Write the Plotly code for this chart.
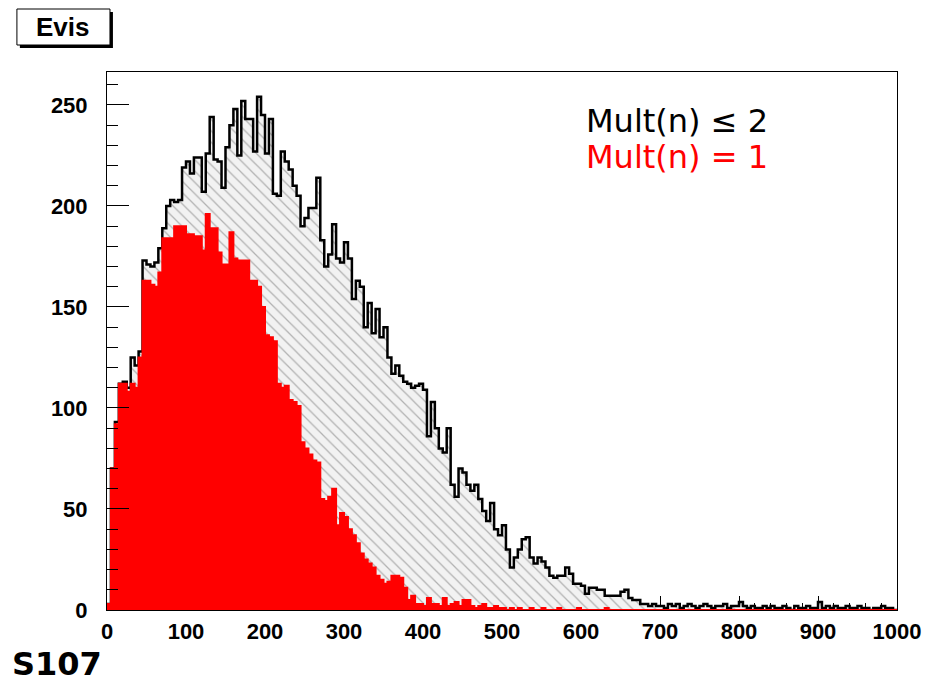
import plotly.graph_objects as go

# ---------------- data ----------------
bin_width = 5
bin_low = list(range(0, 1000, 5))

mult_le2 = [
    3, 70, 93, 112, 113, 110, 125, 121, 128, 173,
    171, 170, 172, 179, 189, 200, 203, 202, 203, 219,
    222, 216, 224, 224, 207, 226, 244, 223, 222, 209,
    229, 240, 248, 225, 252, 243, 243, 227, 254, 245,
    226, 243, 206, 205, 227, 222, 218, 210, 205, 190,
    194, 199, 199, 214, 183, 170, 176, 191, 174, 172,
    182, 174, 154, 163, 160, 140, 152, 137, 149, 135,
    140, 125, 117, 121, 116, 113, 112, 110, 111, 112,
    109, 86, 103, 90, 80, 78, 90, 62, 56, 70,
    68, 62, 59, 62, 55, 49, 44, 53, 40, 37,
    42, 30, 21, 26, 30, 35, 36, 26, 23, 26,
    24, 21, 17, 16, 17, 17, 21, 18, 13, 13,
    12, 8, 11, 11, 10, 10, 7, 7, 7, 7,
    9, 10, 6, 5, 5, 3, 3, 2, 3, 2,
    2, 1, 3, 2, 3, 1, 2, 3, 2, 1,
    2, 3, 2, 1, 2, 2, 3, 1, 2, 2,
    4, 2, 1, 2, 1, 1, 2, 1, 2, 1,
    1, 2, 1, 0, 2, 1, 1, 2, 1, 1,
    4, 1, 2, 1, 2, 1, 1, 2, 1, 1,
    2, 1, 1, 0, 1, 1, 2, 1, 1, 0,
]

mult_eq1 = [
    3, 70, 92, 112, 112, 108, 112, 110, 125, 163,
    163, 161, 160, 167, 184, 184, 184, 190, 190, 190,
    186, 186, 185, 185, 178, 196, 189, 189, 177, 171,
    171, 187, 174, 173, 173, 173, 163, 163, 160, 150,
    136, 135, 133, 112, 110, 111, 104, 103, 101, 83,
    80, 77, 74, 73, 55, 54, 56, 60, 42, 48,
    46, 40, 37, 33, 28, 25, 23, 21, 17, 15,
    13, 14, 17, 17, 16, 11, 5, 7, 3, 3,
    2, 6, 3, 3, 2, 6, 2, 3, 4, 2,
    5, 5, 2, 1, 2, 3, 1, 1, 2, 1,
    1, 0, 1, 0, 1, 0, 0, 1, 0, 0,
    1, 0, 0, 0, 1, 0, 0, 0, 0, 1,
    0, 0, 0, 0, 0, 0, 1, 0, 0, 0,
    0, 0, 0, 0, 0, 0, 0, 0, 0, 0,
    0, 0, 0, 0, 0, 0, 0, 0, 0, 0,
    0, 0, 0, 0, 0, 0, 0, 0, 0, 0,
    0, 0, 0, 0, 0, 0, 0, 0, 0, 0,
    0, 0, 0, 0, 0, 0, 0, 0, 0, 0,
    0, 0, 0, 0, 0, 0, 0, 0, 0, 0,
    0, 0, 0, 0, 0, 0, 0, 0, 0, 0,
]

x_ticks = [0, 100, 200, 300, 400, 500, 600, 700, 800, 900, 1000]
y_ticks = [0, 50, 100, 150, 200, 250]
label_le2 = "Mult(n) \u2264 2"
label_eq1 = "Mult(n) = 1"
title_text = "Evis"
sample_text = "S107"


def step_xy(lows, vals, w):
    xs, ys = [lows[0]], [0]
    for lo, v in zip(lows, vals):
        xs += [lo, lo + w]
        ys += [v, v]
    xs.append(lows[-1] + w)
    ys.append(0)
    return xs, ys


# page body adds an 8px offset; compensate so the frame lands where the reference has it
OFF = 8
W, H = 933 - OFF, 683 - OFF
L, R, T, B = 107 - OFF, 28, 72 - OFF, 73
pw, ph = W - L - R, H - T - B


def px(x):  # reference-window pixel -> paper
    return (x - 107) / pw


def py(y):
    return (610 - y) / ph


fig = go.Figure()

bx, by = step_xy(bin_low, mult_le2, bin_width)
fig.add_trace(go.Scatter(
    x=bx, y=by, mode="lines", line=dict(color="black", width=2.5),
    fill="tozeroy", fillcolor="rgba(0,0,0,0)",
    fillpattern=dict(shape="\\", fgcolor="#707070", bgcolor="#f2f2f2",
                     size=8, solidity=0.16),
    hoverinfo="skip", showlegend=False,
))

rx, ry = step_xy(bin_low, mult_eq1, bin_width)
fig.add_trace(go.Scatter(
    x=rx, y=ry, mode="lines", line=dict(color="#ff0000", width=2),
    fill="tozeroy", fillcolor="#ff0000",
    hoverinfo="skip", showlegend=False,
))

tickfont = dict(family="Liberation Sans, Arial, sans-serif", size=22,
                color="black", weight="bold")

fig.update_xaxes(
    range=[0, 1000], tickvals=x_ticks, ticktext=[str(v) for v in x_ticks],
    ticks="inside", ticklen=14, tickwidth=1, tickcolor="black",
    minor=dict(ticks="inside", dtick=20, ticklen=7, tickcolor="black"),
    showline=True, linecolor="black", linewidth=1, mirror=True,
    showgrid=False, zeroline=False, tickfont=tickfont, ticklabelstandoff=2,
    layer="below traces",
)
fig.update_yaxes(
    range=[0, 266.3], tickvals=y_ticks, ticktext=[str(v) for v in y_ticks],
    ticks="inside", ticklen=22, tickwidth=1, tickcolor="black",
    minor=dict(ticks="inside", dtick=10, ticklen=11, tickcolor="black"),
    showline=True, linecolor="black", linewidth=1, mirror=True,
    showgrid=False, zeroline=False, tickfont=tickfont, ticklabelstandoff=14,
)

shapes = [
    dict(type="rect", xref="paper", yref="paper",
         x0=px(19), x1=px(113), y0=py(48), y1=py(12),
         fillcolor="black", line=dict(width=0), layer="above"),
    dict(type="rect", xref="paper", yref="paper",
         x0=px(16), x1=px(110), y0=py(45), y1=py(9),
         fillcolor="white", line=dict(color="black", width=1), layer="above"),
]

annotations = [
    dict(text=title_text, x=px(63), y=py(27), xref="paper", yref="paper",
         xanchor="center", yanchor="middle", showarrow=False,
         font=dict(family="Liberation Sans, Arial, sans-serif", size=26,
                   color="black", weight="bold")),
    dict(text=sample_text, x=px(9), y=py(664), xref="paper", yref="paper",
         xanchor="left", yanchor="middle", showarrow=False,
         font=dict(family="DejaVu Sans, sans-serif", size=32,
                   color="black", weight="bold")),
    dict(text=label_le2, x=px(589), y=py(121), xref="paper", yref="paper",
         xanchor="left", yanchor="middle", showarrow=False,
         font=dict(family="DejaVu Sans, sans-serif", size=32, color="black")),
    dict(text=label_eq1, x=px(589), y=py(157), xref="paper", yref="paper",
         xanchor="left", yanchor="middle", showarrow=False,
         font=dict(family="DejaVu Sans, sans-serif", size=32, color="#ff0000")),
]

fig.update_layout(
    width=W, height=H,
    margin=dict(l=L, r=R, t=T, b=B),
    paper_bgcolor="white", plot_bgcolor="white",
    shapes=shapes, annotations=annotations,
    showlegend=False,
)

fig.write_html("out.html")
